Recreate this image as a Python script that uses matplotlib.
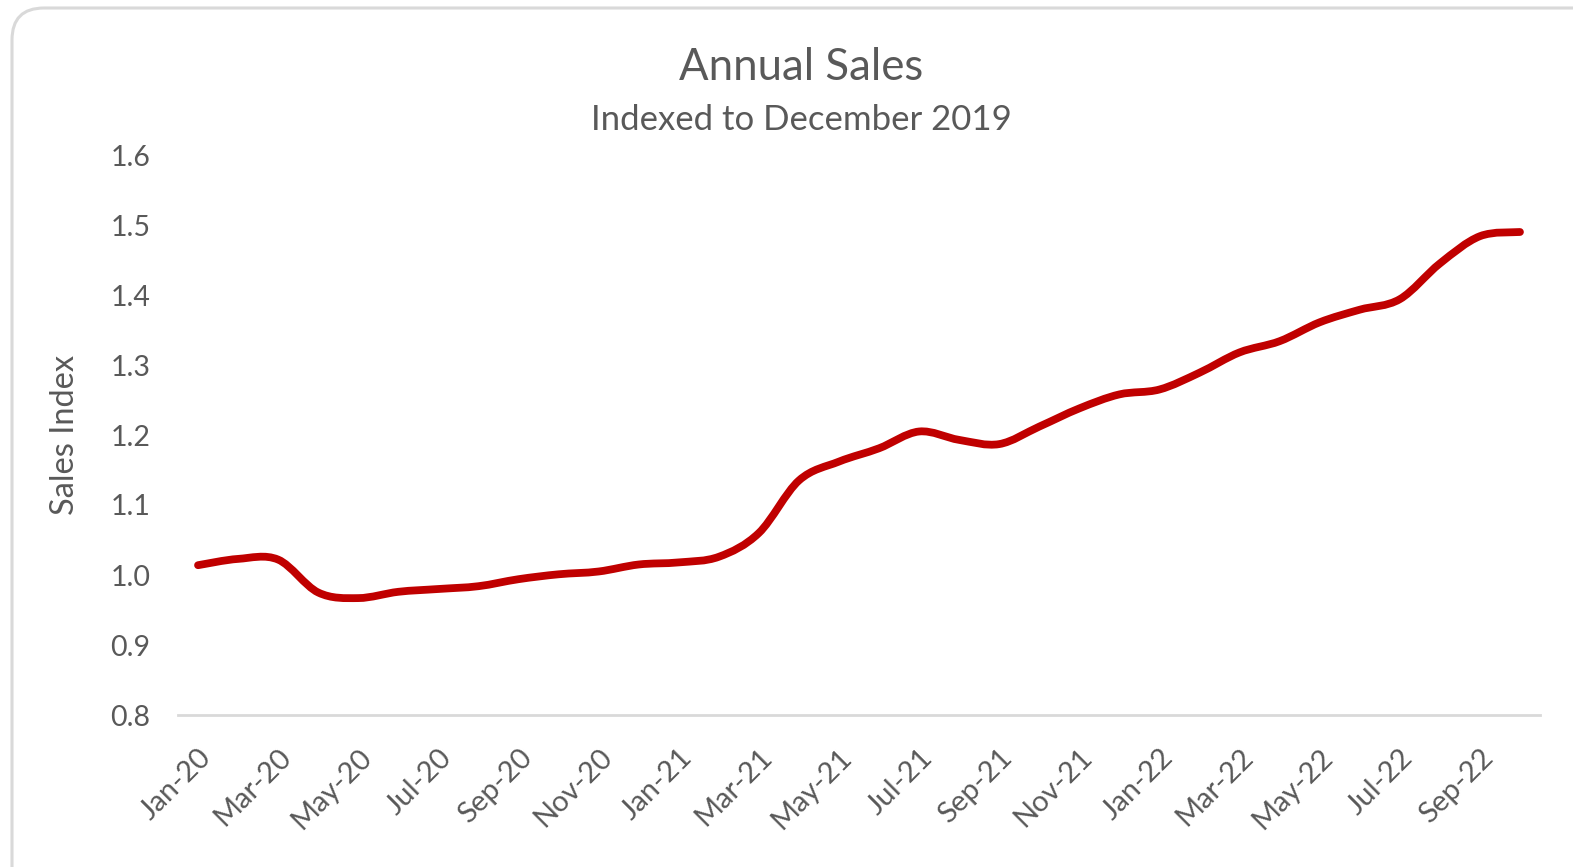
import matplotlib
matplotlib.use("Agg")
import matplotlib.pyplot as plt
from matplotlib.path import Path
from matplotlib.patches import PathPatch, FancyBboxPatch
from matplotlib.transforms import IdentityTransform

months = ["Jan-20", "Feb-20", "Mar-20", "Apr-20", "May-20", "Jun-20",
          "Jul-20", "Aug-20", "Sep-20", "Oct-20", "Nov-20", "Dec-20",
          "Jan-21", "Feb-21", "Mar-21", "Apr-21", "May-21", "Jun-21",
          "Jul-21", "Aug-21", "Sep-21", "Oct-21", "Nov-21", "Dec-21",
          "Jan-22", "Feb-22", "Mar-22", "Apr-22", "May-22", "Jun-22",
          "Jul-22", "Aug-22", "Sep-22", "Oct-22"]
sales_index = [1.014, 1.023, 1.022, 0.975, 0.967, 0.976, 0.980, 0.984,
               0.994, 1.001, 1.005, 1.015, 1.018, 1.026, 1.060, 1.135,
               1.162, 1.181, 1.205, 1.193, 1.187, 1.212, 1.238, 1.258,
               1.265, 1.289, 1.318, 1.334, 1.361, 1.379, 1.394, 1.445,
               1.484, 1.490]
y_ticks = [0.8, 0.9, 1.0, 1.1, 1.2, 1.3, 1.4, 1.5, 1.6]

plt.rcParams['font.family'] = ['Lato', 'DejaVu Sans']
grey = '#595959'


def smooth_path(xs, ys):
    # cubic bezier through every point (catmull-rom tangents)
    n = len(xs)
    verts = [(xs[0], ys[0])]
    codes = [Path.MOVETO]
    for i in range(n - 1):
        a = max(i - 1, 0)
        d = min(i + 2, n - 1)
        c1 = (xs[i] + (xs[i + 1] - xs[a]) / 6, ys[i] + (ys[i + 1] - ys[a]) / 6)
        c2 = (xs[i + 1] - (xs[d] - xs[i]) / 6, ys[i + 1] - (ys[d] - ys[i]) / 6)
        verts += [c1, c2, (xs[i + 1], ys[i + 1])]
        codes += [Path.CURVE4] * 3
    return Path(verts, codes)


fig = plt.figure(figsize=(15.73, 8.67), dpi=100)
fig.patch.set_facecolor('white')

# rounded chart frame
frame = FancyBboxPatch((12, -60), 1620, 919, boxstyle="round,pad=0,rounding_size=32",
                       transform=IdentityTransform(), facecolor='none',
                       edgecolor='#d9d9d9', linewidth=2.2, zorder=-1)
fig.patches.append(frame)

ax = fig.add_axes([178 / 1573, 1 - 715 / 867, (1540 - 178) / 1573, (715 - 155) / 867])
ax.set_facecolor('none')

x = list(range(len(months)))
line = PathPatch(smooth_path(x, sales_index), fill=False, edgecolor='#c00000',
                 linewidth=5.6, capstyle='round', joinstyle='round')
ax.add_patch(line)

ax.set_xlim(-0.5, len(months) - 0.5)
ax.set_ylim(0.8, 1.6)
ax.set_yticks(y_ticks)
ax.set_yticklabels([f"{v:.1f}" for v in y_ticks])
ax.set_xticks(x[::2])
ax.set_xticklabels(months[::2], rotation=45, ha='right', va='top', rotation_mode='anchor')

for side in ['top', 'right', 'left']:
    ax.spines[side].set_visible(False)
ax.spines['bottom'].set_color('#d9d9d9')
ax.spines['bottom'].set_linewidth(2)
ax.tick_params(axis='y', length=0, labelsize=20.5, colors=grey, pad=20)
ax.tick_params(axis='x', length=0, labelsize=21, colors=grey, pad=21)

ax.set_ylabel('Sales Index', fontsize=23.5, color=grey, labelpad=22)

fig.text(801 / 1573, 1 - 67 / 867, 'Annual Sales', ha='center', va='center',
         fontsize=31.5, color=grey)
fig.text(801 / 1573, 1 - 120 / 867, 'Indexed to December 2019', ha='center', va='center',
         fontsize=25, color=grey)

fig.savefig('out.png', dpi=100)
